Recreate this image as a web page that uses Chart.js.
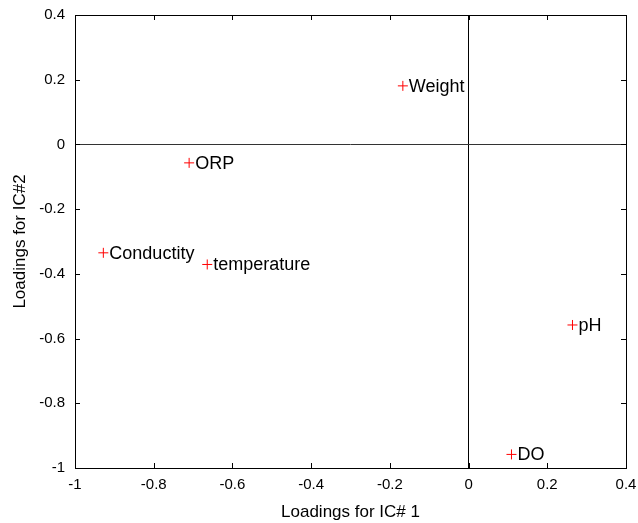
<!DOCTYPE html>
<html>
<head>
<meta charset="utf-8">
<script src="https://cdn.jsdelivr.net/npm/chart.js@4/dist/chart.umd.min.js"></script>
<style>
html,body{margin:0;padding:0;background:#fff;}
#wrap{width:638px;height:523px;position:relative;}
</style>
</head>
<body>
<div id="wrap"><canvas id="c" width="638" height="523"></canvas></div>
<script>
const names = ["Weight","ORP","Conductity","temperature","pH","DO"];
const ic1 = [-0.167,-0.710,-0.928,-0.664,0.264,0.109];
const ic2 = [0.181,-0.057,-0.335,-0.371,-0.558,-0.958];
const xTicks = [-1,-0.8,-0.6,-0.4,-0.2,0,0.2,0.4];
const yTicks = [-1,-0.8,-0.6,-0.4,-0.2,0,0.2,0.4];
const xTitle = "Loadings for IC# 1";
const yTitle = "Loadings for IC#2";

const FONT = "'Liberation Sans', Arial, sans-serif";

const fmt = v => String(Math.round(v*10)/10);

const boxPlugin = {
  id:'boxPlugin',
  afterDatasetsDraw(chart){
    const {ctx, chartArea:a, scales:{x,y}} = chart;
    ctx.save();
    ctx.strokeStyle='#000';
    ctx.lineWidth=1;
    ctx.strokeRect(a.left+0.5, a.top+0.5, a.right-a.left, a.bottom-a.top);
    const L=5;
    ctx.beginPath();
    xTicks.forEach(v=>{
      const px=Math.round(x.getPixelForValue(v))+0.5;
      ctx.moveTo(px,a.bottom); ctx.lineTo(px,a.bottom-L);
      ctx.moveTo(px,a.top); ctx.lineTo(px,a.top+L);
    });
    yTicks.forEach(v=>{
      const py=Math.round(y.getPixelForValue(v))+0.5;
      ctx.moveTo(a.left,py); ctx.lineTo(a.left+L,py);
      ctx.moveTo(a.right,py); ctx.lineTo(a.right-L,py);
    });
    ctx.stroke();
    // labels
    ctx.fillStyle='#000';
    ctx.font='18px '+FONT;
    ctx.textAlign='left';
    ctx.textBaseline='middle';
    const meta = chart.getDatasetMeta(0);
    meta.data.forEach((pt,i)=>{
      ctx.fillText(names[i], pt.x+6, pt.y+1);
    });
    ctx.restore();
  }
};

new Chart(document.getElementById('c'), {
  type:'scatter',
  data:{
    datasets:[{
      data: ic1.map((v,i)=>({x:v,y:ic2[i]})),
      pointStyle:'cross',
      pointRadius:5,
      pointHoverRadius:5,
      borderColor:'#ff0000',
      backgroundColor:'#ff0000',
      borderWidth:1
    }]
  },
  options:{
    responsive:false,
    animation:false,
    devicePixelRatio:1,
    layout:{padding:{top:15,right:12,left:0,bottom:0}},
    plugins:{legend:{display:false},tooltip:{enabled:false}},
    scales:{
      x:{
        type:'linear', min:-1, max:0.4,
        afterBuildTicks(s){ s.ticks = xTicks.map(v=>({value:v})); },
        afterFit(s){ s.height = 55; s.paddingLeft = 0; s.paddingRight = 0; },
        grid:{
          drawTicks:false,
          color: c => (c.tick && c.tick.value===0) ? '#000' : 'rgba(0,0,0,0)',
          lineWidth:1
        },
        border:{display:false},
        ticks:{ padding:8, color:'#000', font:{family:FONT,size:15}, callback:v=>fmt(v), maxRotation:0, autoSkip:false },
        title:{ display:true, text:xTitle, color:'#000', font:{family:FONT,size:17}, padding:{top:0,bottom:0} }
      },
      y:{
        type:'linear', min:-1, max:0.4,
        afterBuildTicks(s){ s.ticks = yTicks.map(v=>({value:v})); },
        afterFit(s){ s.width = 75; s.paddingTop = 0; s.paddingBottom = 0; },
        grid:{
          drawTicks:false,
          color: c => (c.tick && c.tick.value===0) ? '#333' : 'rgba(0,0,0,0)',
          lineWidth:1
        },
        border:{display:false},
        ticks:{ padding:10, color:'#000', font:{family:FONT,size:15}, callback:v=>fmt(v), autoSkip:false },
        title:{ display:true, text:yTitle, color:'#000', font:{family:FONT,size:17}, padding:{top:10,bottom:0} }
      }
    }
  },
  plugins:[boxPlugin]
});
</script>
</body>
</html>
